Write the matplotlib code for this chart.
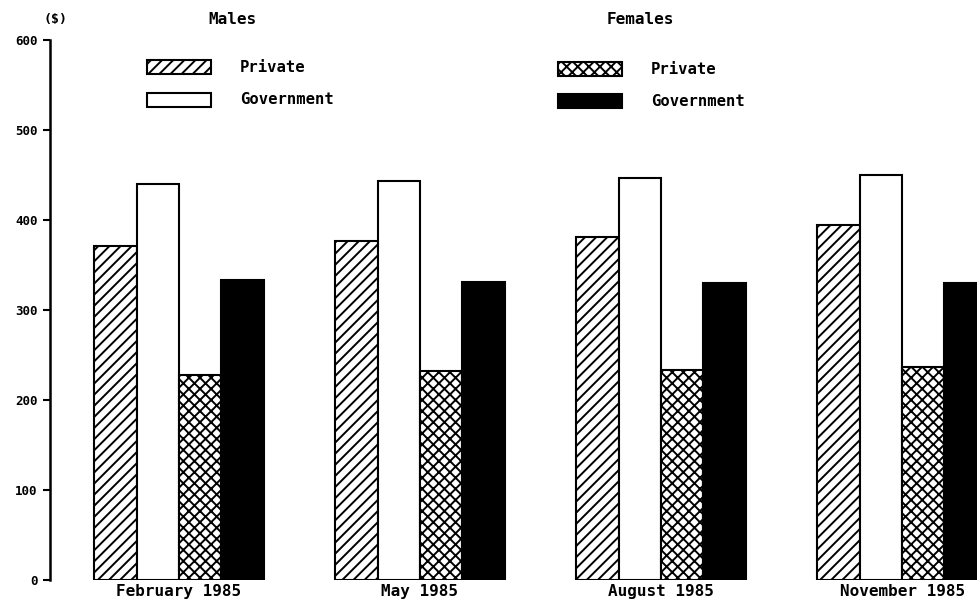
import matplotlib
matplotlib.use("Agg")
import matplotlib.pyplot as plt
from matplotlib.patches import Rectangle
import numpy as np

categories = ["February 1985", "May 1985", "August 1985", "November 1985"]
male_private = [371, 377, 381, 395]
male_government = [440, 443, 447, 450]
female_private = [228, 232, 233, 237]
female_government = [333, 331, 330, 330]
yticks = [0, 100, 200, 300, 400, 500, 600]

W, H = 978, 599
plt.rcParams['hatch.linewidth'] = 1.4
FONT = "DejaVu Sans Mono"

fig = plt.figure(figsize=(W / 100, H / 100), dpi=100)
ax_l, ax_r, ax_b, ax_t = 50, 978, 580, 40
ax = fig.add_axes([ax_l / W, 1 - ax_b / H, (ax_r - ax_l) / W, (ax_b - ax_t) / H])

x = np.arange(len(categories))
bw = 0.176
series = [
    (male_private, dict(facecolor="white", hatch="///")),
    (male_government, dict(facecolor="white")),
    (female_private, dict(facecolor="white", hatch="xxx")),
    (female_government, dict(facecolor="black")),
]
for i, (vals, style) in enumerate(series):
    ax.bar(x + (i - 1.5) * bw, vals, width=bw, edgecolor="black", linewidth=1.5,
           align="center", **style)

ax.set_xlim(-0.535, 3.315)
ax.set_ylim(0, 600)
for s in ["top", "right", "bottom"]:
    ax.spines[s].set_visible(False)
ax.spines["left"].set_linewidth(1.8)
ax.set_yticks(yticks)
ax.set_yticklabels([str(v) for v in yticks], fontfamily=FONT, fontweight="bold", fontsize=9)
ax.tick_params(axis="y", length=5, width=1.5, pad=4)
ax.set_xticks([])
for xi, lab in zip(x, categories):
    ax.annotate(lab, (xi, 0), xycoords="data", xytext=(0, -3), textcoords="offset points",
                ha="center", va="top", fontfamily=FONT, fontweight="bold", fontsize=11.5,
                annotation_clip=False)

def fx(px):
    return px / W

def fy(py):
    return 1 - py / H

fig.text(fx(56), fy(20), "($)", ha="center", va="center", fontfamily=FONT, fontweight="bold", fontsize=9.5)
fig.text(fx(232), fy(20), "Males", ha="center", va="center", fontfamily=FONT, fontweight="bold", fontsize=11.5)
fig.text(fx(640), fy(20), "Females", ha="center", va="center", fontfamily=FONT, fontweight="bold", fontsize=11.5)

legend_items = [
    (147, 60, "Private", dict(facecolor="white", hatch="///")),
    (147, 93, "Government", dict(facecolor="white")),
    (558, 62, "Private", dict(facecolor="white", hatch="xxx")),
    (558, 94, "Government", dict(facecolor="black")),
]
for px, py, lab, style in legend_items:
    r = Rectangle((fx(px), fy(py + 14)), 64 / W, 14 / H, transform=fig.transFigure,
                  edgecolor="black", linewidth=1.5, **style)
    fig.add_artist(r)
    fig.text(fx(px + 93), fy(py + 7), lab, ha="left", va="center", fontfamily=FONT,
             fontweight="bold", fontsize=11.2)

fig.savefig("out.png", dpi=100)
